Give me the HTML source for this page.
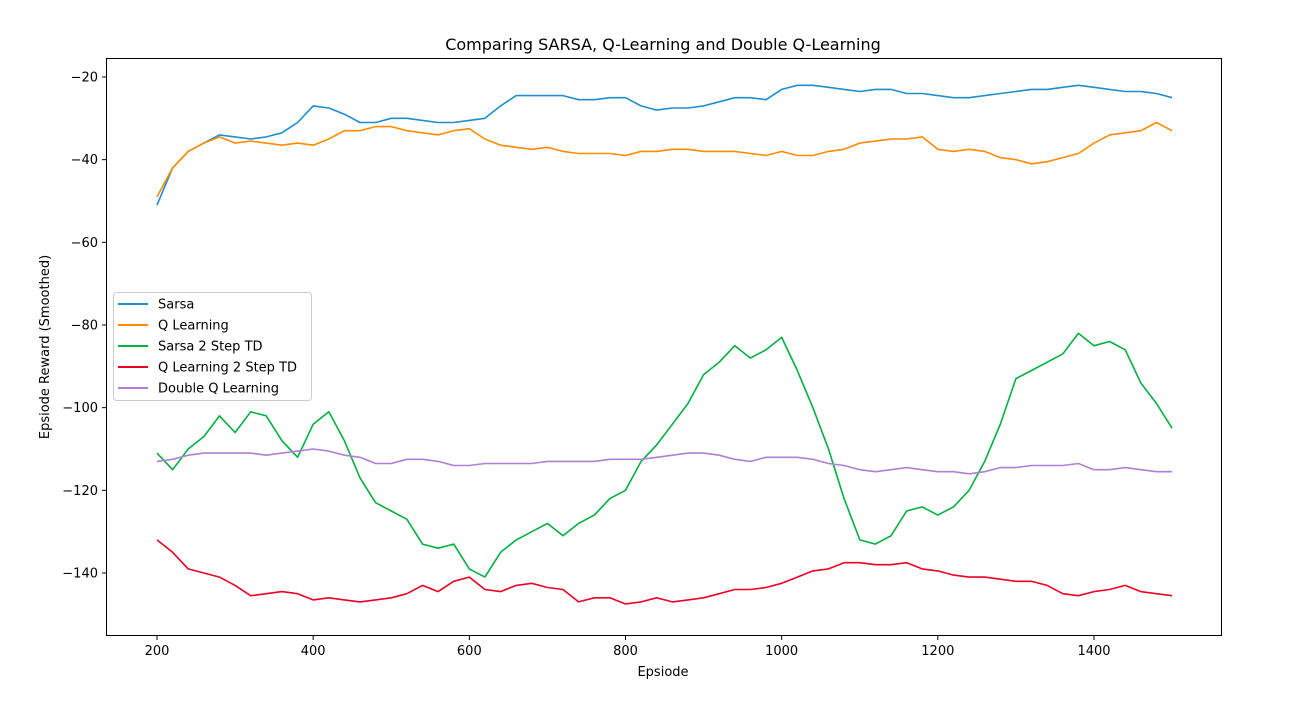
<!DOCTYPE html>
<html><head><meta charset="utf-8"><style>
body{margin:0;background:#fff;}
svg{display:block;font-family:"DejaVu Sans","Liberation Sans",sans-serif;}
</style></head><body>
<svg id="chart" width="1291" height="702" xmlns="http://www.w3.org/2000/svg">
<rect width="1291" height="702" fill="#fff"/>
<text x="663" y="50" font-size="16" text-anchor="middle">Comparing SARSA, Q-Learning and Double Q-Learning</text>
<g id="plot"></g>
<rect x="106.5" y="58.5" width="1115" height="577" fill="none" stroke="#000" stroke-width="1"/>
<g id="xt"></g>
<g id="yt"></g>
<text x="663" y="676" font-size="13" text-anchor="middle">Epsiode</text>
<text x="49" y="347" font-size="13" text-anchor="middle" transform="rotate(-90 49 347)">Epsiode Reward (Smoothed)</text>
<g id="legend"></g>
</svg>
<script>
const xTicks=[200,400,600,800,1000,1200,1400];
const yTicks=[-20,-40,-60,-80,-100,-120,-140];
const seriesNames=["Sarsa","Q Learning","Sarsa 2 Step TD","Q Learning 2 Step TD","Double Q Learning"];
const sarsa=[-51,-42,-38,-36,-34,-34.5,-35,-34.5,-33.5,-31,-27,-27.5,-29,-31,-31,-30,-30,-30.5,-31,-31,-30.5,-30,-27,-24.5,-24.5,-24.5,-24.5,-25.5,-25.5,-25,-25,-27,-28,-27.5,-27.5,-27,-26,-25,-25,-25.5,-23,-22,-22,-22.5,-23,-23.5,-23,-23,-24,-24,-24.5,-25,-25,-24.5,-24,-23.5,-23,-23,-22.5,-22,-22.5,-23,-23.5,-23.5,-24,-25];
const qLearning=[-49,-42,-38,-36,-34.5,-36,-35.5,-36,-36.5,-36,-36.5,-35,-33,-33,-32,-32,-33,-33.5,-34,-33,-32.5,-35,-36.5,-37,-37.5,-37,-38,-38.5,-38.5,-38.5,-39,-38,-38,-37.5,-37.5,-38,-38,-38,-38.5,-39,-38,-39,-39,-38,-37.5,-36,-35.5,-35,-35,-34.5,-37.5,-38,-37.5,-38,-39.5,-40,-41,-40.5,-39.5,-38.5,-36,-34,-33.5,-33,-31,-33];
const sarsa2=[-111,-115,-110,-107,-102,-106,-101,-102,-108,-112,-104,-101,-108,-117,-123,-125,-127,-133,-134,-133,-139,-141,-135,-132,-130,-128,-131,-128,-126,-122,-120,-113,-109,-104,-99,-92,-89,-85,-88,-86,-83,-91,-100,-110,-122,-132,-133,-131,-125,-124,-126,-124,-120,-113,-104,-93,-91,-89,-87,-82,-85,-84,-86,-94,-99,-105];
const qLearning2=[-132,-135,-139,-140,-141,-143,-145.5,-145,-144.5,-145,-146.5,-146,-146.5,-147,-146.5,-146,-145,-143,-144.5,-142,-141,-144,-144.5,-143,-142.5,-143.5,-144,-147,-146,-146,-147.5,-147,-146,-147,-146.5,-146,-145,-144,-144,-143.5,-142.5,-141,-139.5,-139,-137.5,-137.5,-138,-138,-137.5,-139,-139.5,-140.5,-141,-141,-141.5,-142,-142,-143,-145,-145.5,-144.5,-144,-143,-144.5,-145,-145.5];
const doubleQ=[-113,-112.5,-111.5,-111,-111,-111,-111,-111.5,-111,-110.5,-110,-110.5,-111.5,-112,-113.5,-113.5,-112.5,-112.5,-113,-114,-114,-113.5,-113.5,-113.5,-113.5,-113,-113,-113,-113,-112.5,-112.5,-112.5,-112,-111.5,-111,-111,-111.5,-112.5,-113,-112,-112,-112,-112.5,-113.5,-114,-115,-115.5,-115,-114.5,-115,-115.5,-115.5,-116,-115.5,-114.5,-114.5,-114,-114,-114,-113.5,-115,-115,-114.5,-115,-115.5,-115.5];
const colors=["#1f8ecf","#ff8c00","#00b140","#ee0022","#b27fd6"];
const data=[sarsa,qLearning,sarsa2,qLearning2,doubleQ];
const NS="http://www.w3.org/2000/svg";
const X=v=>157+(v-200)*(1094-157)/1200;
const Y=v=>77+(-20-v)*(573-77)/120;
function mk(t,a,p){const e=document.createElementNS(NS,t);for(const k in a)e.setAttribute(k,a[k]);p.appendChild(e);return e;}
const xt=document.getElementById('xt'),yt=document.getElementById('yt'),plot=document.getElementById('plot'),lg=document.getElementById('legend');
xTicks.forEach(t=>{const x=X(t);
const l=mk('line',{x1:x,x2:x,y1:636,y2:640,stroke:'#000'},xt);


const s=mk('text',{x:x,y:655,'font-size':13,'text-anchor':'middle'},xt);s.textContent=t;

});
yTicks.forEach(t=>{const y=Y(t);
const l=mk('line',{x1:102,x2:106,y1:y,y2:y,stroke:'#000'},yt);


const s=mk('text',{x:98,y:y+4.5,'font-size':13,'text-anchor':'end'},yt);s.textContent='\u2212'+Math.abs(t);

});
data.forEach((arr,i)=>{const pts=arr.map((v,j)=>X(200+20*j).toFixed(1)+','+Y(v).toFixed(1)).join(' ');
const p=mk('polyline',{points:pts,fill:'none',stroke:colors[i],'stroke-width':1.6,'stroke-linejoin':'round'},plot);

});
const box=mk('rect',{x:113.5,y:292.5,width:198,height:108,rx:3,fill:'#fff','fill-opacity':0.85,stroke:'#ccc'},lg);


seriesNames.forEach((n,i)=>{const y=304+21*i;
const g=mk('g',{},lg);


mk('line',{x1:118,x2:148,y1:y,y2:y,stroke:colors[i],'stroke-width':2},g);
const s=mk('text',{x:158,y:y+4.5,'font-size':13},g);s.textContent=n;});
</script>
</body></html>
